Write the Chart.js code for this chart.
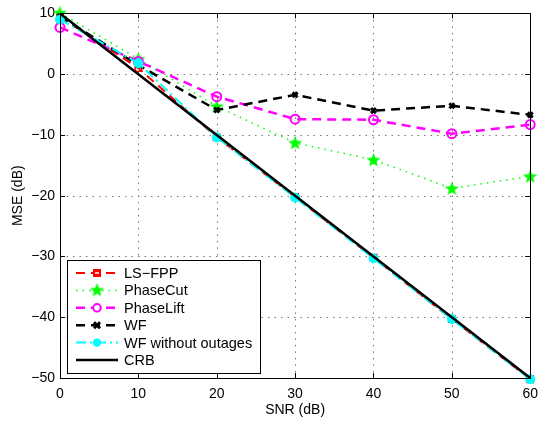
<!DOCTYPE html>
<html><head><meta charset="utf-8">
<script src="https://cdn.jsdelivr.net/npm/chart.js@4/dist/chart.umd.min.js"></script>
<style>html,body{margin:0;padding:0;background:#fff}</style>
</head><body>
<canvas id="c" width="546" height="425" style="width:546px;height:425px;display:block"></canvas>
<script>
const snr = [0, 10, 20, 30, 40, 50, 60];
const lsFpp = [9.4, 1.0, -10.4, -20.2, -30.2, -40.3, -50.2];
const phaseCut = [10.1, 2.5, -5.3, -11.3, -14.1, -18.8, -16.8];
const phaseLift = [7.7, 2.1, -3.7, -7.4, -7.5, -9.8, -8.3];
const wf = [9.5, 1.5, -5.9, -3.4, -6.0, -5.2, -6.7];
const wfNoOut = [9.0, 1.8, -10.4, -20.3, -30.3, -40.3, -50.2];
const crb = [10, 0, -10, -20, -30, -40, -50];
const xTicks = [0, 10, 20, 30, 40, 50, 60];
const yTicks = [10, 0, -10, -20, -30, -40, -50];
const seriesNames = ['LS\u2212FPP', 'PhaseCut', 'PhaseLift', 'WF', 'WF without outages', 'CRB'];

const FONT = '"Liberation Sans", Arial, Helvetica, sans-serif';

function makeStar(size, color) {
  const cv = document.createElement('canvas');
  cv.width = size; cv.height = size;
  const g = cv.getContext('2d');
  const cx = size / 2, cy = size / 2 + 0.5, R = size / 2, r = R * 0.42;
  g.beginPath();
  for (let i = 0; i < 10; i++) {
    const a = -Math.PI / 2 + i * Math.PI / 5;
    const rr = i % 2 === 0 ? R : r;
    const px = cx + rr * Math.cos(a), py = cy + rr * Math.sin(a);
    if (i === 0) g.moveTo(px, py); else g.lineTo(px, py);
  }
  g.closePath();
  g.fillStyle = color; g.fill();
  return cv;
}
const starImg = makeStar(15, '#00ff00');

function pts(arr) { return snr.map((x, i) => ({x: x, y: arr[i]})); }

const styles = [
  {color: '#ff0000', dash: [9, 6], width: 2, point: 'rect', pr: 4.5, pbg: 'rgba(0,0,0,0)', pbw: 1.5},
  {color: '#00ff00', dash: [1.5, 5], width: 1.5, point: starImg, pr: 7.5, pbg: '#00ff00', pbw: 0},
  {color: '#ff00ff', dash: [9, 6], width: 2.5, point: 'circle', pr: 4.5, pbg: 'rgba(0,0,0,0)', pbw: 2},
  {color: '#000000', dash: [9, 6], width: 2.5, point: 'crossRot', pr: 3.5, pbg: '#000', pbw: 3},
  {color: '#00ffff', dash: [10, 4, 2, 4], width: 2, point: 'circle', pr: 4.5, pbg: '#00ffff', pbw: 1},
  {color: '#000000', dash: [], width: 2.5, point: false, pr: 0, pbg: '#000', pbw: 0}
];
const seriesData = [lsFpp, phaseCut, phaseLift, wf, wfNoOut, crb];

const datasets = seriesData.map((arr, i) => {
  const s = styles[i];
  return {
    label: seriesNames[i],
    data: pts(arr),
    borderColor: s.color,
    borderWidth: s.width,
    borderDash: s.dash,
    pointStyle: s.point,
    pointRadius: s.pr,
    pointBackgroundColor: s.pbg,
    pointBorderColor: s.color,
    pointBorderWidth: s.pbw,
    tension: 0,
    fill: false,
    clip: false,
    order: 6 - i
  };
});

function fmt(v) { return v < 0 ? '\u2212' + Math.abs(v) : String(v); }

const gridPlugin = {
  id: 'gridPlugin',
  beforeDatasetsDraw(chart) {
    const ctx = chart.ctx, a = chart.chartArea;
    const xs = chart.scales.x, ys = chart.scales.y;
    ctx.save();
    ctx.strokeStyle = '#777'; ctx.lineWidth = 1;
    ctx.setLineDash([1.5, 5]);
    ctx.beginPath();
    xTicks.forEach(v => {
      const x = Math.round(xs.getPixelForValue(v)) + 0.5;
      ctx.moveTo(x, a.top); ctx.lineTo(x, a.bottom);
    });
    yTicks.forEach(v => {
      const y = Math.round(ys.getPixelForValue(v)) + 0.5;
      ctx.moveTo(a.left, y); ctx.lineTo(a.right, y);
    });
    ctx.stroke();
    ctx.restore();
  }
};

const decor = {
  id: 'decor',
  afterDraw(chart) {
    const ctx = chart.ctx, a = chart.chartArea;
    const xs = chart.scales.x, ys = chart.scales.y;
    ctx.save();
    ctx.strokeStyle = '#000'; ctx.lineWidth = 1;
    ctx.strokeRect(Math.round(a.left) + 0.5, Math.round(a.top) + 0.5, Math.round(a.right - a.left), Math.round(a.bottom - a.top));
    ctx.beginPath();
    xTicks.forEach(v => {
      const x = Math.round(xs.getPixelForValue(v)) + 0.5;
      ctx.moveTo(x, a.bottom); ctx.lineTo(x, a.bottom - 5);
      ctx.moveTo(x, a.top); ctx.lineTo(x, a.top + 5);
    });
    yTicks.forEach(v => {
      const y = Math.round(ys.getPixelForValue(v)) + 0.5;
      ctx.moveTo(a.left, y); ctx.lineTo(a.left + 5, y);
      ctx.moveTo(a.right, y); ctx.lineTo(a.right - 5, y);
    });
    ctx.stroke();
    ctx.fillStyle = '#000';
    ctx.font = '14px ' + FONT;
    ctx.textAlign = 'center'; ctx.textBaseline = 'middle';
    ctx.fillText('SNR (dB)', (a.left + a.right) / 2, 410);
    ctx.save();
    ctx.translate(18, (a.top + a.bottom) / 2);
    ctx.rotate(-Math.PI / 2);
    ctx.fillText('MSE (dB)', 0, 0);
    ctx.restore();
    // legend
    const lx = 67, ly = 260, lw = 193, lh = 113;
    ctx.fillStyle = '#fff';
    ctx.fillRect(lx, ly, lw, lh);
    ctx.strokeStyle = '#000'; ctx.lineWidth = 1;
    ctx.strokeRect(lx + 0.5, ly + 0.5, lw, lh);
    seriesNames.forEach((name, i) => {
      const s = styles[i];
      const y = 273 + i * 17.4;
      ctx.save();
      ctx.strokeStyle = s.color; ctx.lineWidth = s.width;
      ctx.setLineDash(s.dash);
      ctx.beginPath(); ctx.moveTo(76, y); ctx.lineTo(118, y); ctx.stroke();
      ctx.setLineDash([]);
      const mx = 97;
      if (s.point === 'rect') {
        ctx.fillStyle = '#ff0000'; ctx.fillRect(mx - 4, y - 4, 8, 8);
        ctx.fillStyle = '#ffbbbb'; ctx.fillRect(mx - 2, y - 1, 4, 2);
      } else if (s.point === starImg) {
        ctx.drawImage(starImg, mx - 7.5, y - 8);
      } else if (s.point === 'circle') {
        ctx.beginPath(); ctx.arc(mx, y, 3.8, 0, Math.PI * 2);
        ctx.fillStyle = s.pbg === 'rgba(0,0,0,0)' ? '#fff' : s.pbg;
        ctx.fill(); ctx.lineWidth = s.pbw; ctx.stroke();
      } else if (s.point === 'crossRot') {
        ctx.lineWidth = s.pbw; ctx.beginPath();
        ctx.moveTo(mx - 3, y - 3); ctx.lineTo(mx + 3, y + 3);
        ctx.moveTo(mx + 3, y - 3); ctx.lineTo(mx - 3, y + 3);
        ctx.stroke();
      }
      ctx.restore();
      ctx.fillStyle = '#000';
      ctx.font = '14.5px ' + FONT;
      ctx.textAlign = 'left'; ctx.textBaseline = 'middle';
      ctx.fillText(name, 124, y + 1);
    });
    ctx.restore();
  }
};

new Chart(document.getElementById('c'), {
  type: 'line',
  data: {datasets: datasets},
  options: {
    responsive: false,
    animation: false,
    layout: {padding: {top: 10, right: 9, left: 0, bottom: 0}},
    plugins: {legend: {display: false}, tooltip: {enabled: false}},
    scales: {
      x: {
        type: 'linear', min: 0, max: 60,
        afterFit(s) { s.height = 47; },
        afterBuildTicks(s) { s.ticks = xTicks.map(v => ({value: v})); },
        grid: {display: false, drawTicks: false},
        border: {display: false},
        ticks: {padding: 8, color: '#000', font: {family: FONT, size: 14}, maxRotation: 0, callback: v => fmt(v)}
      },
      y: {
        type: 'linear', min: -50, max: 10,
        afterFit(s) { s.width = 60; },
        afterBuildTicks(s) { s.ticks = yTicks.slice().reverse().map(v => ({value: v})); },
        grid: {display: false, drawTicks: false},
        border: {display: false},
        ticks: {padding: 5, color: '#000', font: {family: FONT, size: 14}, callback: v => fmt(v)}
      }
    }
  },
  plugins: [gridPlugin, decor]
});
</script>
</body></html>
